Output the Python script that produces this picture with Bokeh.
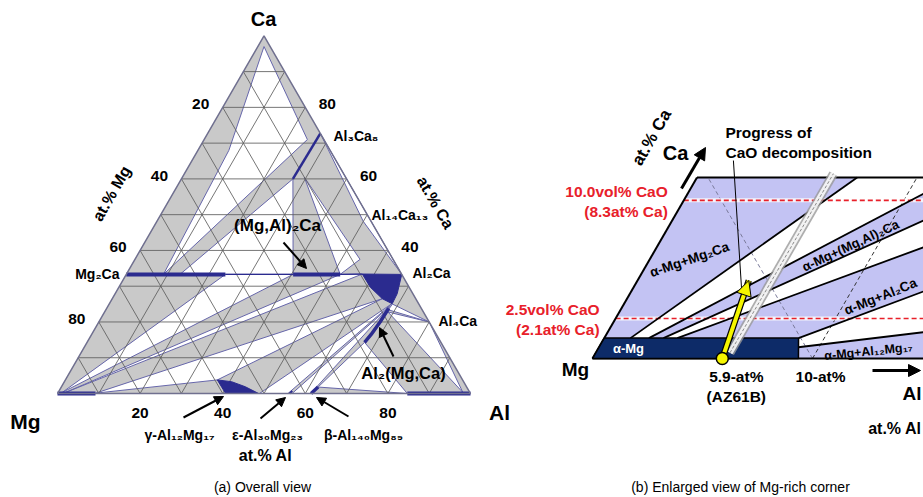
import numpy as np
from bokeh.plotting import figure
from bokeh.models import Range1d, Arrow, NormalHead
from bokeh.core.properties import value
from bokeh.embed import file_html
from bokeh.resources import INLINE

FONT = "Liberation Sans"

# ===================== DATA =====================
# Panel (a): Mg-Al-Ca isothermal section; points are (at.% Al, at.% Ca)
grid_levels = [10, 20, 30, 40, 50, 60, 70, 80, 90]
mg_ticks = [20, 40, 60, 80]      # at.% Mg along the Mg-Ca edge
ca_ticks = [80, 60, 40]          # at.% Ca along the Al-Ca edge
al_ticks = [20, 40, 60, 80]      # at.% Al along the Mg-Al edge

# three-phase triangles (white)
tri_ca_mg2ca_al3ca8 = [(1.5, 97.0), (7.5, 68.0), (9.0, 33.3), (25.0, 71.0)]
tri_mg2ca_al3ca8_mgal2ca = [(13.0, 33.3), (40.4, 33.3), (27.0, 60.0)]
tri_al3ca8_mgal2ca_al2ca = [(29.5, 60.5), (51.8, 33.3), (54.5, 37.5)]
tri_al3ca8_al14ca13_al2ca = [(27.3, 72.7), (50.0, 48.1), (66.7, 33.3), (51.9, 48.1)]
tri_mg_mg2ca_mgal2ca = [(1.0, 0.3), (24.0, 33.3), (40.4, 33.3)]
tri_mg_mgal2ca_al2ca = [(1.8, 0.3), (51.8, 33.3), (57.1, 33.4)]
tri_mg_al2ca_gamma = [(9.2, 0.1), (65.4, 26.5), (36.8, 3.8)]
tri_gamma_eps_al2ca = [(48.9, 0.0), (68.4, 25.1), (55.8, 0.0)]
tri_eps_beta_al2ca = [(56.8, 0.0), (68.3, 24.3), (61.3, 0.0)]
tri_beta_al_laves = [(62.2, 1.8), (67.2, 14.3), (84.7, 0.0)]
tri_al_laves_al4ca = [(68.6, 22.8), (80.0, 20.0), (98.0, 0.3)]
tri_al2ca_laves_al4ca = [(68.6, 25.0), (68.4, 23.4), (80.0, 20.0)]

# single-phase fields (dark blue)
phase_mg_ss = [(0.0, 0.0), (9.2, 0.0)]
phase_mg2ca = [(0.0, 33.3), (24.0, 33.3)]
phase_mgal2ca = [(40.4, 33.3), (51.8, 33.3)]
phase_al3ca8 = [(27.3, 72.7), (27.0, 60.0)]
phase_al2ca = [(57.1, 33.4), (66.7, 33.3), (68.3, 27.9), (68.5, 25.1), (65.4, 26.5), (60.9, 29.7)]
phase_laves = [(68.3, 23.8), (68.1, 20.0), (67.7, 16.5), (67.2, 14.3)]
phase_gamma = [(40.7, 0.0), (36.8, 3.8), (40.5, 3.3), (44.5, 1.9), (48.7, 0.0)]
phase_eps = [(56.2, 0.0), (56.5, 0.7)]
phase_beta = [(61.4, 0.0), (62.2, 1.8)]
phase_al_ss = [(84.7, 0.0), (100.0, 0.0)]
tie_lines_33 = [[(24.0, 33.3), (40.4, 33.3)], [(51.8, 33.3), (57.1, 33.4)]]

# Panel (b): Mg-rich corner; points are (at.% Al, at.% Ca)
b_top_ca = 9.5
b_outline = [(0.0, 0.0), (15.4, 0.0), (10.6, 9.5), (0.0, 9.5)]
b_alpha_mg = [(0.0, 0.0), (9.36, 0.0), (8.83, 1.07), (0.0, 1.07)]
b_bound_1 = [(1.19, 1.07), (7.28, 9.5)]
b_bound_2 = [(2.03, 1.07), (10.72, 8.65)]
b_bound_3 = [(2.69, 1.07), (11.43, 7.24)]
b_bound_4 = [(3.32, 1.07), (12.13, 5.84)]
b_bound_5 = [(8.83, 1.07), (13.29, 3.52)]
b_bound_6 = [(9.06, 0.59), (14.36, 1.38)]
b_topright = (10.6, 9.5)
b_cao_ca = [8.3, 2.1]
b_cao_vol = ["10.0vol% CaO", "2.5vol% CaO"]
b_cao_at = ["(8.3at% Ca)", "(2.1at% Ca)"]
b_alloy_al = 5.9
b_arrow_tip = (5.06, 4.09)
b_progress_al = 6.1
b_progress_ca = [0.3, 9.7]
b_mg90_line = [(10.0, 0.0), (0.5, 9.5)]
b_al10_line = [(10.0, 0.0), (10.0, 9.5)]
b_pointer = [(1.21, 10.39), (4.94, 3.67)]

# ===================== GEOMETRY =====================
TX, TY, TS = 57.0, 393.0, 413.0          # panel (a) ternary frame
BX, BY, BK = 592.0, 358.0, 22.0          # panel (b) enlarged frame
H = 0.8660254


def tern(pts):
    a = np.asarray(pts, float)
    al, ca = a[:, 0], a[:, 1]
    return list(TX + TS * (al + ca / 2) / 100.0), list(TY - TS * H * ca / 100.0)


def bmap(pts):
    a = np.asarray(pts, float)
    al, ca = a[:, 0], a[:, 1]
    return list(BX + BK * (al + ca / 2)), list(BY - BK * H * ca)


p = figure(width=923, height=497, x_range=Range1d(0, 923), y_range=Range1d(497, 0),
           output_backend="svg", toolbar_location=None, min_border=0,
           x_axis_type=None, y_axis_type=None)
p.grid.visible = False
p.outline_line_color = None
p.min_border_left = p.min_border_right = p.min_border_top = p.min_border_bottom = 0


def txt(x, y, s, size, bold=True, color="black", align="center", angle=0):
    p.text(x=[x], y=[y], text=[s], text_font=value(FONT), text_font_size=f"{size}px",
           text_font_style="bold" if bold else "normal", text_color=color,
           text_align=align, text_baseline="middle", angle=angle, angle_units="deg")


# ---------------- panel (a) ----------------
GRAY = "#c9c9c9"
EDGE = "#6666aa"
BLUE = "#2b2b8f"

tx, ty = tern([(0, 0), (100, 0), (0, 100)])
p.patch(tx, ty, fill_color=GRAY, line_color=None)

whites = [tri_ca_mg2ca_al3ca8, tri_mg2ca_al3ca8_mgal2ca, tri_al3ca8_mgal2ca_al2ca,
          tri_al3ca8_al14ca13_al2ca, tri_mg_mg2ca_mgal2ca, tri_mg_mgal2ca_al2ca,
          tri_mg_al2ca_gamma, tri_gamma_eps_al2ca, tri_eps_beta_al2ca,
          tri_beta_al_laves, tri_al_laves_al4ca, tri_al2ca_laves_al4ca]
wx, wy = [], []
for w in whites:
    x, y = tern(w)
    wx.append(x)
    wy.append(y)
p.patches(wx, wy, fill_color="white", line_color=EDGE, line_width=1)

# grid
gx, gy = [], []
for v in grid_levels:
    for seg in ([(0, v), (100 - v, v)], [(v, 0), (v, 100 - v)], [(100 - v, 0), (0, 100 - v)]):
        x, y = tern(seg)
        gx.append(x)
        gy.append(y)
p.multi_line(gx, gy, line_color="#5e5e5e", line_width=1, line_alpha=0.85)

# tie lines on the 33.3 at.% Ca line
for t in tie_lines_33:
    x, y = tern(t)
    p.line(x, y, line_color=BLUE, line_width=1.2)

# single phases
for ph, w in [(phase_mg_ss, 4), (phase_mg2ca, 4), (phase_mgal2ca, 4), (phase_al3ca8, 2.5),
              (phase_laves, 3.5), (phase_eps, 2), (phase_beta, 3.5), (phase_al_ss, 4)]:
    x, y = tern(ph)
    p.line(x, y, line_color=BLUE, line_width=w)
for ph in (phase_al2ca, phase_gamma):
    x, y = tern(ph)
    p.patch(x, y, fill_color=BLUE, line_color=BLUE, line_width=1)

# triangle outline
ox, oy = tern([(0, 0), (100, 0), (0, 100), (0, 0)])
p.line(ox, oy, line_color="#70708f", line_width=1.5)

# axis tick labels
for m in mg_ticks:
    x, y = tern([(0, 100 - m)])
    txt(x[0] - 22, y[0] - 3, str(m), 15.5)
for c in ca_ticks:
    x, y = tern([(100 - c, c)])
    txt(x[0] + 22, y[0] - 3, str(c), 15.5)
for a in al_ticks:
    x, y = tern([(a, 0)])
    txt(x[0], y[0] + 19, str(a), 15.5)

txt(263, 18, "Ca", 20)
txt(25, 421, "Mg", 21)
txt(499, 412, "Al", 21)
txt(111, 193, "at.% Mg", 16, angle=60)
txt(435, 202, "at.% Ca", 16, angle=-60)
txt(265, 455, "at.% Al", 16)
txt(262, 486, "(a) Overall view", 14, bold=False)

txt(119, 273, "Mg\u2082Ca", 14, align="right")
txt(333, 135, "Al\u2083Ca\u2088", 14, align="left")
txt(371, 214, "Al\u2081\u2084Ca\u2081\u2083", 14, align="left")
txt(412, 272, "Al\u2082Ca", 14, align="left")
txt(438, 320, "Al\u2084Ca", 14, align="left")
txt(277, 225, "(Mg,Al)\u2082Ca", 17)
txt(403, 372, "Al\u2082(Mg,Ca)", 16.5)
txt(179, 434, "\u03b3-Al\u2081\u2082Mg\u2081\u2087", 14)
txt(267, 434, "\u03b5-Al\u2083\u2080Mg\u2082\u2083", 14)
txt(363, 434, "\u03b2-Al\u2081\u2084\u2080Mg\u2088\u2089", 14)

for (xs, ys, xe, ye) in [(283, 242, 306, 268), (393, 356, 379, 327), (183, 417, 223, 396),
                         (260, 418, 285, 397), (348, 416, 316, 397)]:
    p.add_layout(Arrow(end=NormalHead(size=9, fill_color="black", line_color="black"),
                       x_start=xs, y_start=ys, x_end=xe, y_end=ye,
                       line_color="black", line_width=2))

# ---------------- panel (b) ----------------
LAV = "#c3c3f3"
NAVY = "#0d2b68"
RED = "#e8202a"

x, y = bmap(b_outline)
p.patch(x, y, fill_color=LAV, line_color=None)

wedges = [[b_bound_1[0], b_bound_1[1], b_topright, b_bound_2[1], b_bound_2[0]],
          [b_bound_3[0], b_bound_3[1], b_bound_4[1], b_bound_4[0]],
          [b_bound_5[0], b_bound_5[1], b_bound_6[1], b_bound_6[0]]]
bx_, by_ = [], []
for w in wedges:
    x, y = bmap(w)
    bx_.append(x)
    by_.append(y)
p.patches(bx_, by_, fill_color="white", line_color=None)

# composition guide lines
x, y = bmap(b_mg90_line)
p.line(x, y, line_color="#7a7a9a", line_width=1, line_dash="4 3")
x, y = bmap(b_al10_line)
p.line(x, y, line_color="#333333", line_width=1, line_dash="4 3")

# CaO level lines
for c in b_cao_ca:
    x, y = bmap([(0, c), (20, c)])
    p.line(x, y, line_color="white", line_width=4, line_alpha=0.8)
    p.line(x, y, line_color=RED, line_width=1.6, line_dash="5 3")

# phase boundaries
for bnd in (b_bound_1, b_bound_2, b_bound_3, b_bound_4, b_bound_5, b_bound_6):
    x, y = bmap(bnd)
    p.line(x, y, line_color="black", line_width=1.8)
for seg in ([(0, 0), (0, b_top_ca)], [(0, b_top_ca), b_topright], [(0, 0), (15.4, 0)]):
    x, y = bmap(seg)
    p.line(x, y, line_color="black", line_width=2)

x, y = bmap(b_alpha_mg)
p.patch(x, y, fill_color=NAVY, line_color="black", line_width=1.5)

# progress band
x, y = bmap([(b_progress_al, b_progress_ca[0]), (b_progress_al, b_progress_ca[1])])
p.line(x, y, line_color="#9a9a9a", line_width=9, line_alpha=0.8)
p.line(x, y, line_color="white", line_width=5.5, line_alpha=0.85)
p.line(x, y, line_color="#8a8a8a", line_width=1, line_dash="3 2")

# pointer from label
x, y = bmap(b_pointer)
p.line(x, y, line_color="black", line_width=1)

# yellow arrow
x, y = bmap([(b_alloy_al, 0), b_arrow_tip])
p.line(x, y, line_color="black", line_width=6.5)
p.line(x, y, line_color="#f5f500", line_width=4)
p.add_layout(Arrow(end=NormalHead(size=15, fill_color="#f5f500", line_color="black", line_width=1),
                   x_start=x[0] + (x[1] - x[0]) * 0.8, y_start=y[0] + (y[1] - y[0]) * 0.8,
                   x_end=x[1], y_end=y[1], line_alpha=0))
p.scatter(x[:1], y[:1], size=12, fill_color="#f5f500", line_color="black", line_width=1.5)

# texts (b)
txt(675, 152, "Ca", 20)
txt(651, 137, "at.% Ca", 17, angle=60)
p.add_layout(Arrow(end=NormalHead(size=12, fill_color="black", line_color="black"),
                   x_start=681, y_start=188, x_end=705, y_end=147,
                   line_color="black", line_width=3))
txt(725, 132, "Progress of", 15.5, align="left")
txt(725, 152, "CaO decomposition", 15.5, align="left")
for c, v_, a_ in zip(b_cao_ca, b_cao_vol, b_cao_at):
    x, y = bmap([(0, c)])
    xr = x[0] - 16
    txt(xr, y[0] - 9, v_, 15.5, color=RED, align="right")
    txt(xr, y[0] + 11, a_, 15.5, color=RED, align="right")
txt(575, 369, "Mg", 19)
txt(628, 348, "\u03b1-Mg", 13, color="white")
x, y = bmap([(b_alloy_al, 0)])
txt(x[0] + 14, 376, "5.9-at%", 15.5)
txt(x[0] + 14, 396, "(AZ61B)", 15.5)
x, y = bmap([(10, 0)])
txt(x[0] + 8, 376, "10-at%", 15.5)
p.add_layout(Arrow(end=NormalHead(size=12, fill_color="black", line_color="black"),
                   x_start=872, y_start=370, x_end=920, y_end=370,
                   line_color="black", line_width=3))
txt(921, 393, "Al", 19, align="right")
txt(921, 428, "at.% Al", 16, align="right")
txt(740, 486, "(b) Enlarged view of Mg-rich corner", 14, bold=False)

txt(689, 259, "\u03b1-Mg+Mg\u2082Ca", 13.5, angle=19)
txt(850, 245, "\u03b1-Mg+(Mg,Al)\u2082Ca", 13, angle=25)
txt(880, 296, "\u03b1-Mg+Al\u2082Ca", 13.5, angle=22)
txt(868, 351, "\u03b1-Mg+Al\u2081\u2082Mg\u2081\u2087", 12.5, angle=6)

open("out.html", "w").write(file_html(p, INLINE))
